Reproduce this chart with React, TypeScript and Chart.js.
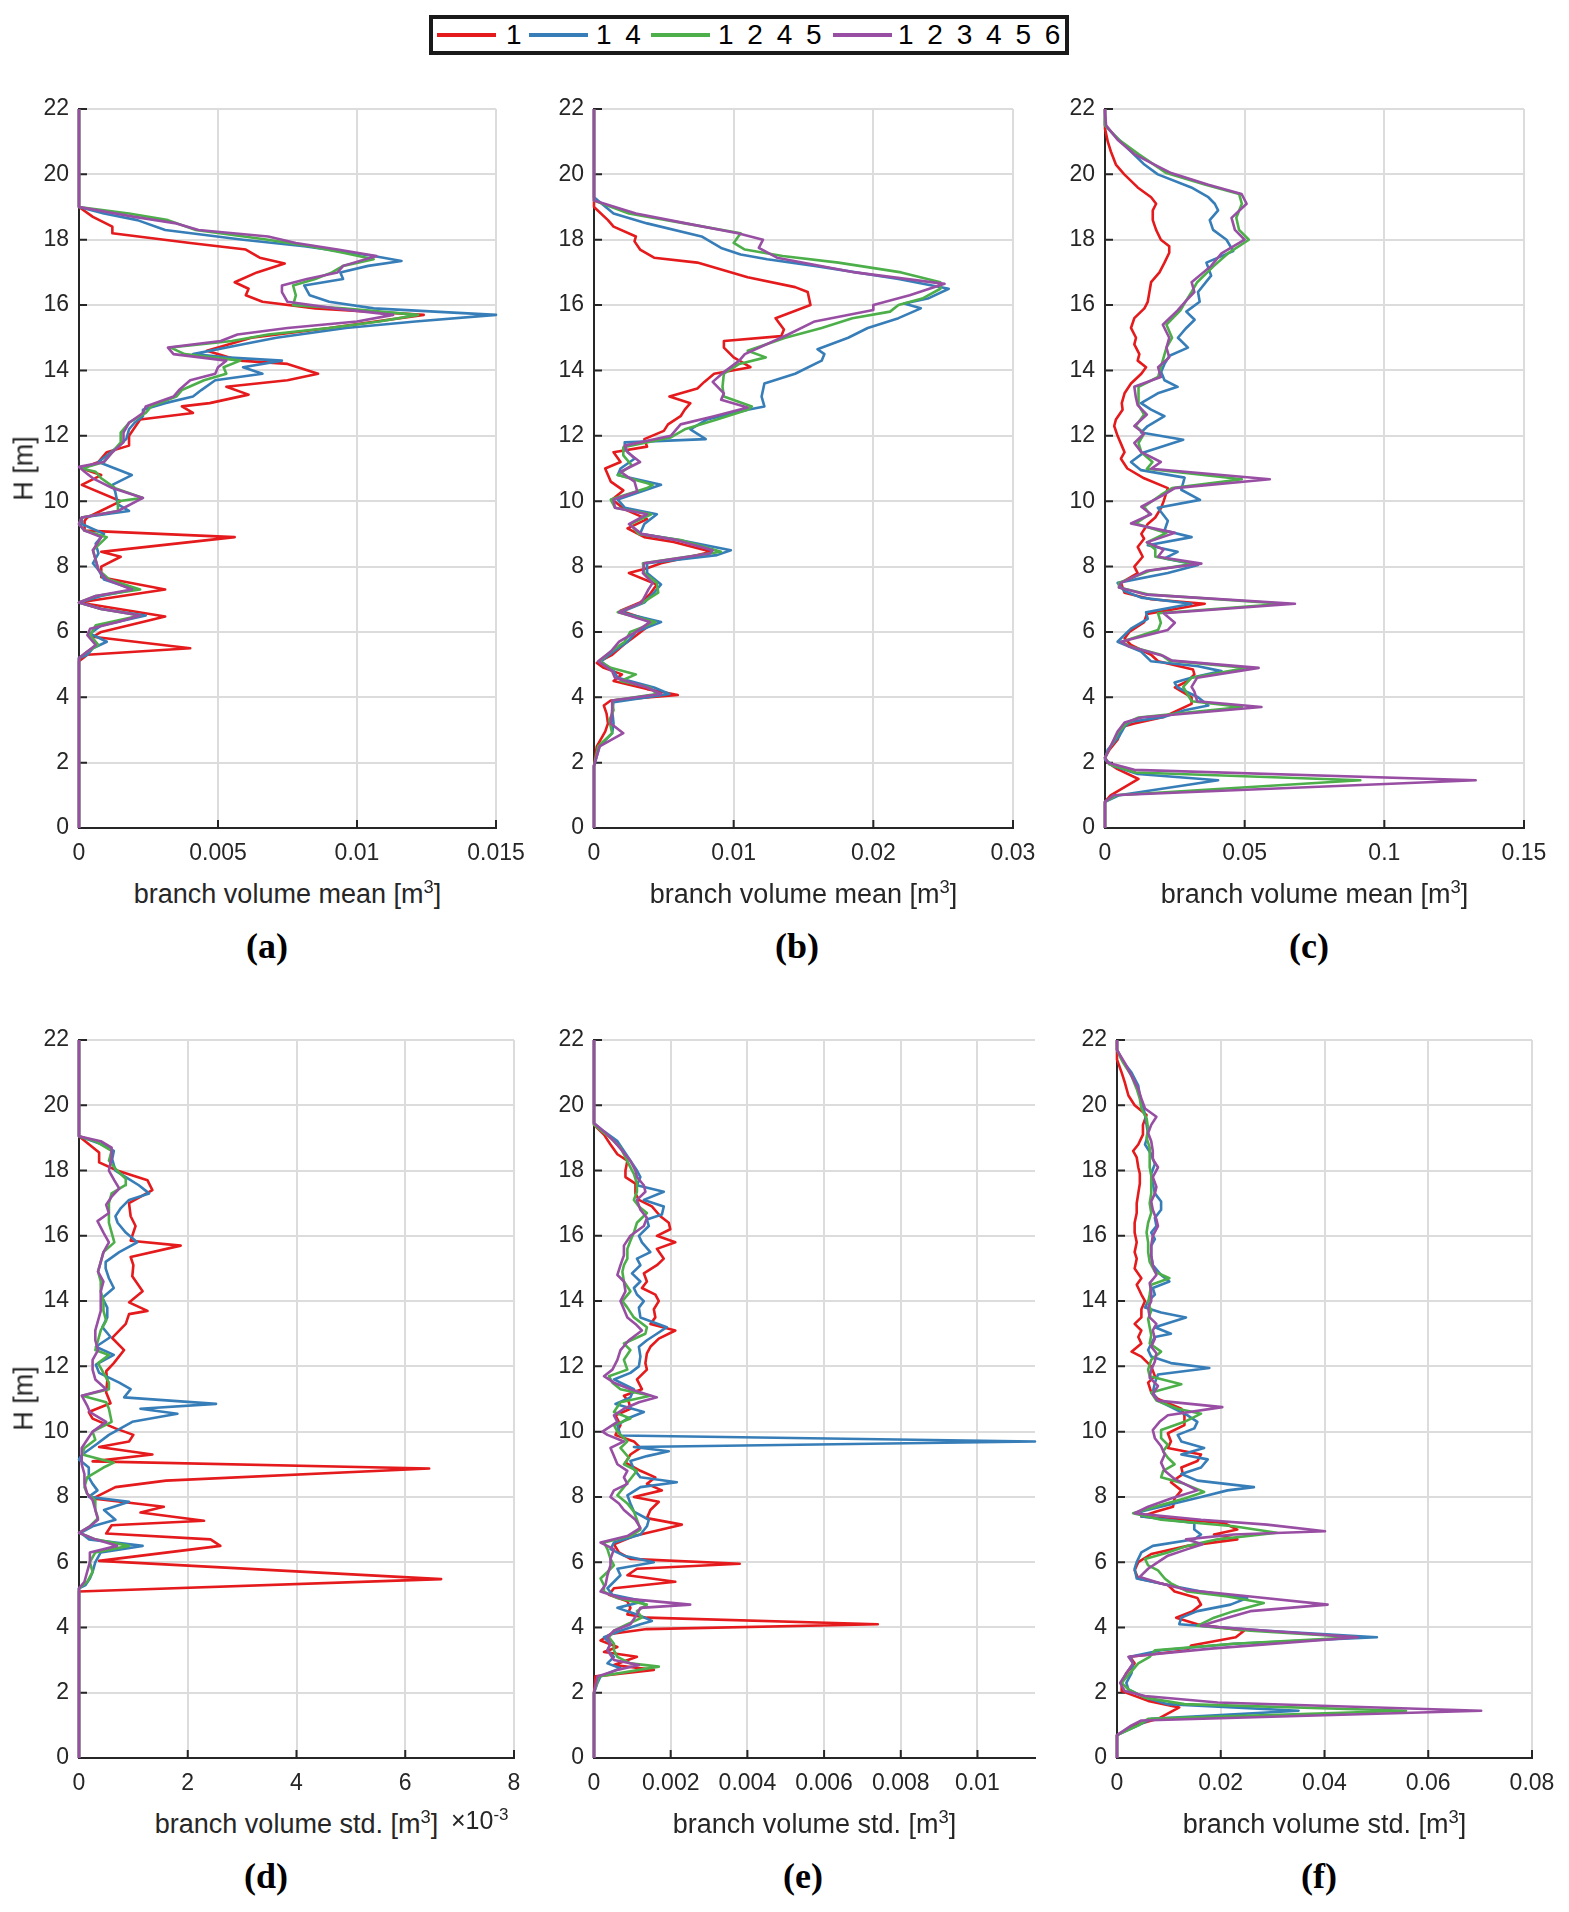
import React, { useEffect, useRef } from "react";
import { Chart, registerables } from "chart.js";

Chart.register(...registerables);

// ---------- styling constants ----------
const FONT = "'Liberation Sans', Arial, Helvetica, sans-serif";
const SERIF = "'Liberation Serif', 'Times New Roman', Times, serif";
const AXIS_COLOR = "#262626";
const GRID_COLOR = "#dcdcdc";
const SERIES_COLORS = ["#E41A1C", "#377EB8", "#4DAF4A", "#984EA3"];
const SERIES_LABELS = ["1", "1 4", "1 2 4 5", "1 2 3 4 5 6"];

// ---------- shared axis ticks ----------
const H_TICKS = [0, 2, 4, 6, 8, 10, 12, 14, 16, 18, 20, 22];
const H_TICK_LABELS = ["0", "2", "4", "6", "8", "10", "12", "14", "16", "18", "20", "22"];

const XT_A = [0, 0.005, 0.01, 0.015];
const XL_A = ["0", "0.005", "0.01", "0.015"];
const XT_B = [0, 0.01, 0.02, 0.03];
const XL_B = ["0", "0.01", "0.02", "0.03"];
const XT_C = [0, 0.05, 0.1, 0.15];
const XL_C = ["0", "0.05", "0.1", "0.15"];
const XT_D = [0, 2, 4, 6, 8]; // x 10^-3 m^3
const XL_D = ["0", "2", "4", "6", "8"];
const XT_E = [0, 0.002, 0.004, 0.006, 0.008, 0.01];
const XL_E = ["0", "0.002", "0.004", "0.006", "0.008", "0.01"];
const XT_F = [0, 0.02, 0.04, 0.06, 0.08];
const XL_F = ["0", "0.02", "0.04", "0.06", "0.08"];

// ---------- data: [height H (m), value] ----------
// (a) branch volume mean [m^3]
const A_RED = [[0,0],[5.1,0],[5.3,0.0003],[5.5,0.004],[5.85,0.0005],[6.0,0.0008],[6.47,0.0031],[6.9,0],[7.3,0.0031],[7.67,0.0008],[8.0,0.0008],[8.3,0.0015],[8.45,0.0008],[8.9,0.0056],[9.1,0.0002],[9.4,0.0002],[9.5,0.0003],[10.0,0.0015],[10.5,0.0001],[10.8,0.0008],[11.0,0.0001],[11.2,0.0007],[11.5,0.001],[11.7,0.0018],[12.0,0.0018],[12.5,0.0022],[12.7,0.0041],[12.9,0.0037],[13.0,0.0047],[13.26,0.0061],[13.5,0.0053],[13.7,0.0075],[13.9,0.0086],[14.2,0.0075],[14.3,0.0058],[14.6,0.0046],[15.0,0.0062],[15.3,0.009],[15.7,0.0124],[15.9,0.0085],[16.1,0.0066],[16.3,0.006],[16.5,0.0061],[16.7,0.0056],[17.0,0.0064],[17.27,0.0074],[17.45,0.0065],[17.7,0.006],[17.9,0.004],[18.2,0.0012],[18.4,0.0012],[18.7,0.0005],[19.0,0],[22,0]];
const A_BLUE = [[0,0],[5.2,0],[5.3,0.0003],[5.5,0.0005],[5.7,0.001],[5.95,0.0004],[6.2,0.0008],[6.5,0.0024],[6.7,0.0008],[6.9,0],[7.1,0.0008],[7.3,0.002],[7.6,0.0009],[7.9,0.0007],[8.1,0.0005],[8.4,0.0007],[8.7,0.0006],[9.0,0.0009],[9.3,0.0001],[9.5,0.0001],[9.7,0.0018],[9.9,0.0014],[10.3,0.0013],[10.5,0.0012],[10.8,0.0019],[11.0,0.0013],[11.2,0.0007],[11.4,0.001],[11.6,0.0013],[11.9,0.0017],[12.2,0.0018],[12.4,0.002],[12.6,0.0023],[12.8,0.0023],[13.0,0.0031],[13.2,0.0041],[13.4,0.0044],[13.7,0.0049],[13.9,0.0066],[14.1,0.0059],[14.3,0.0073],[14.4,0.0053],[14.5,0.0041],[14.8,0.0059],[15.0,0.0071],[15.3,0.0096],[15.5,0.0121],[15.7,0.015],[15.9,0.0106],[16.1,0.009],[16.3,0.0083],[16.6,0.0081],[16.8,0.0095],[17.0,0.0094],[17.2,0.0104],[17.35,0.0116],[17.5,0.0106],[17.8,0.0081],[18.0,0.0059],[18.3,0.0031],[18.6,0.0021],[18.8,0.0009],[19.0,0],[22,0]];
const A_GREEN = [[0,0],[5.2,0],[5.4,0.0003],[5.6,0.0007],[5.9,0.0004],[6.2,0.0006],[6.5,0.0022],[6.7,0.0008],[6.9,0],[7.1,0.0006],[7.3,0.0022],[7.6,0.0011],[7.9,0.0007],[8.2,0.0006],[8.5,0.0005],[8.9,0.001],[9.1,0.0002],[9.3,0],[9.5,0.0001],[9.7,0.0014],[10.0,0.0014],[10.1,0.0023],[10.4,0.0013],[10.7,0.0008],[10.9,0.0006],[11.0,0.0001],[11.2,0.0009],[11.5,0.0012],[11.8,0.0015],[12.1,0.0015],[12.4,0.0018],[12.7,0.0024],[12.9,0.0026],[13.2,0.0035],[13.4,0.0037],[13.7,0.0045],[13.9,0.0053],[14.1,0.0052],[14.3,0.0058],[14.5,0.0038],[14.7,0.0033],[14.9,0.0055],[15.1,0.0068],[15.3,0.009],[15.5,0.0108],[15.7,0.0122],[15.9,0.0095],[16.0,0.0077],[16.3,0.0078],[16.6,0.0077],[16.8,0.0085],[17.0,0.0091],[17.2,0.0095],[17.4,0.0106],[17.6,0.0095],[17.8,0.0083],[18.0,0.0068],[18.3,0.0042],[18.6,0.0032],[18.8,0.0018],[19.0,0],[22,0]];
const A_PURPLE = [[0,0],[5.2,0],[5.4,0.0003],[5.6,0.0006],[5.9,0.0003],[6.1,0.0004],[6.3,0.0014],[6.5,0.0022],[6.7,0.0008],[6.9,0],[7.1,0.0006],[7.3,0.0019],[7.6,0.001],[7.9,0.0007],[8.2,0.0006],[8.5,0.0005],[8.9,0.0008],[9.1,0.0002],[9.3,0],[9.5,0.0001],[9.7,0.0014],[10.1,0.0023],[10.4,0.0012],[10.7,0.0005],[10.9,0.0002],[11.05,0],[11.2,0.0009],[11.5,0.0012],[11.8,0.0016],[12.1,0.0016],[12.4,0.0018],[12.7,0.0023],[12.9,0.0024],[13.2,0.0034],[13.4,0.0036],[13.7,0.004],[13.9,0.0049],[14.1,0.005],[14.3,0.0053],[14.5,0.0034],[14.7,0.0032],[14.9,0.0051],[15.1,0.0057],[15.3,0.0075],[15.5,0.01],[15.7,0.0113],[15.9,0.0092],[16.1,0.0075],[16.4,0.0073],[16.6,0.0073],[16.8,0.0082],[17.0,0.0093],[17.2,0.0095],[17.5,0.0107],[17.7,0.0093],[17.9,0.0078],[18.1,0.0068],[18.3,0.0043],[18.5,0.0035],[18.7,0.002],[19.0,0],[22,0]];

// (b) branch volume mean [m^3]
const B_RED = [[0,0],[1.9,0],[2.5,0.0002],[2.95,0.0008],[3.2,0.001],[3.5,0.0009],[3.75,0.0007],[3.9,0.0012],[4.07,0.006],[4.25,0.0038],[4.5,0.0014],[4.7,0.002],[4.9,0.0007],[5.05,0.0002],[5.3,0.0013],[5.6,0.0021],[5.85,0.0029],[6.05,0.0035],[6.3,0.0043],[6.65,0.0019],[6.9,0.0033],[7.15,0.004],[7.45,0.0045],[7.8,0.0025],[7.95,0.0038],[8.1,0.0048],[8.3,0.0069],[8.45,0.0084],[8.75,0.0057],[8.9,0.0036],[9.17,0.0024],[9.45,0.0038],[9.75,0.0022],[10.05,0.0013],[10.33,0.0021],[10.6,0.0012],[11.0,0.0008],[11.2,0.0019],[11.5,0.0014],[11.67,0.0038],[11.9,0.0036],[12.15,0.005],[12.35,0.0053],[12.6,0.0062],[12.8,0.0065],[13.0,0.0069],[13.2,0.0054],[13.45,0.0074],[13.65,0.0079],[13.9,0.0086],[14.1,0.0112],[14.4,0.01],[14.7,0.0093],[14.9,0.0093],[15.05,0.0134],[15.25,0.0136],[15.6,0.013],[16.0,0.0155],[16.4,0.0153],[16.55,0.0144],[16.85,0.011],[17.3,0.0074],[17.45,0.0043],[17.7,0.0033],[17.95,0.0029],[18.1,0.003],[18.4,0.0014],[18.6,0.001],[19.0,0],[22,0]];
const B_BLUE = [[0,0],[1.9,0],[2.5,0.0004],[2.9,0.0013],[3.2,0.0014],[3.6,0.0013],[3.85,0.0014],[4.1,0.0054],[4.3,0.0043],[4.6,0.0017],[4.8,0.0014],[5.1,0.0005],[5.4,0.0014],[5.7,0.0024],[6.0,0.003],[6.3,0.0048],[6.6,0.0019],[6.9,0.0036],[7.2,0.0043],[7.45,0.0048],[7.8,0.0038],[8.1,0.0038],[8.35,0.0088],[8.5,0.0098],[8.8,0.0062],[9.0,0.0033],[9.3,0.0036],[9.6,0.0045],[9.8,0.0022],[10.05,0.0017],[10.5,0.0048],[10.8,0.0017],[11.0,0.0019],[11.3,0.0029],[11.6,0.0022],[11.8,0.0022],[11.9,0.008],[12.2,0.0069],[12.5,0.0081],[12.8,0.011],[12.9,0.0122],[13.2,0.012],[13.6,0.0122],[13.9,0.0144],[14.3,0.0163],[14.5,0.0165],[14.65,0.016],[15.0,0.0182],[15.3,0.0196],[15.6,0.0218],[15.9,0.0234],[16.05,0.0222],[16.2,0.0239],[16.5,0.0254],[16.8,0.0218],[17.2,0.0158],[17.4,0.0124],[17.55,0.0105],[17.75,0.0091],[18.1,0.0077],[18.5,0.0038],[18.8,0.0014],[19.3,0],[22,0]];
const B_GREEN = [[0,0],[1.9,0],[2.5,0.0003],[2.9,0.0013],[3.3,0.0011],[3.6,0.0014],[3.9,0.0013],[4.1,0.0045],[4.3,0.004],[4.5,0.0019],[4.7,0.003],[4.9,0.0012],[5.1,0.0004],[5.4,0.0012],[5.7,0.0022],[6.0,0.0026],[6.3,0.0044],[6.6,0.0017],[6.9,0.0035],[7.2,0.0046],[7.5,0.0045],[7.8,0.0036],[8.1,0.0035],[8.45,0.0091],[8.8,0.0063],[9.0,0.0032],[9.3,0.0026],[9.6,0.0041],[9.8,0.0015],[10.05,0.0012],[10.4,0.0038],[10.5,0.0042],[10.8,0.0017],[11.1,0.0027],[11.4,0.0021],[11.65,0.0021],[11.95,0.0055],[12.2,0.0065],[12.5,0.0088],[12.8,0.011],[12.9,0.0113],[13.2,0.0093],[13.5,0.0092],[13.9,0.0093],[14.2,0.0104],[14.4,0.0123],[14.6,0.011],[15.0,0.0137],[15.3,0.0163],[15.6,0.0185],[15.8,0.0212],[16.0,0.0218],[16.2,0.0235],[16.5,0.0248],[16.7,0.0248],[17.0,0.022],[17.3,0.0175],[17.5,0.0135],[17.7,0.0108],[17.9,0.01],[18.2,0.0105],[18.5,0.0065],[18.8,0.0025],[19.2,0],[22,0]];
const B_PURPLE = [[0,0],[1.9,0],[2.5,0.0004],[2.9,0.0021],[3.2,0.0012],[3.6,0.0013],[3.9,0.0013],[4.1,0.0048],[4.3,0.0038],[4.6,0.0015],[4.8,0.0013],[5.1,0.0003],[5.4,0.0012],[5.7,0.0018],[6.0,0.003],[6.3,0.004],[6.6,0.0018],[6.9,0.0034],[7.3,0.0039],[7.5,0.0042],[7.8,0.0035],[8.1,0.0036],[8.4,0.0083],[8.5,0.0085],[8.8,0.006],[9.0,0.0034],[9.3,0.0025],[9.6,0.0038],[9.8,0.0015],[10.05,0.0014],[10.3,0.0031],[10.6,0.0029],[10.9,0.0019],[11.2,0.0033],[11.5,0.0024],[11.7,0.0022],[12.0,0.0055],[12.35,0.0062],[12.6,0.0086],[12.87,0.011],[13.1,0.0091],[13.3,0.0093],[13.65,0.0085],[13.95,0.0093],[14.3,0.0104],[14.5,0.0108],[15.1,0.0139],[15.5,0.0158],[15.85,0.02],[16.0,0.02],[16.3,0.0226],[16.65,0.0251],[17.0,0.0187],[17.45,0.0131],[17.75,0.0118],[18.0,0.0121],[18.2,0.0103],[18.5,0.0066],[18.8,0.003],[19.2,0],[22,0]];

// (c) branch volume mean [m^3]
const C_RED = [[0,0],[0.8,0],[1.0,0.002],[1.5,0.012],[1.8,0.0045],[2.0,0.001],[2.15,0],[2.4,0.0016],[2.7,0.0045],[3.1,0.0063],[3.2,0.0105],[3.4,0.021],[3.6,0.026],[3.8,0.031],[4.0,0.031],[4.3,0.025],[4.5,0.0297],[4.7,0.032],[4.85,0.0315],[5.1,0.019],[5.3,0.0165],[5.6,0.0093],[5.8,0.007],[6.0,0.0087],[6.3,0.014],[6.55,0.015],[6.86,0.0357],[7.0,0.0165],[7.2,0.007],[7.5,0.0057],[7.8,0.0117],[8.0,0.0105],[8.3,0.0135],[8.6,0.0117],[8.85,0.014],[9.0,0.013],[9.3,0.0153],[9.5,0.018],[9.8,0.0201],[10.0,0.021],[10.4,0.0225],[10.7,0.014],[11.0,0.008],[11.3,0.0057],[11.5,0.007],[11.7,0.006],[12.0,0.0045],[12.3,0.0033],[12.5,0.0039],[12.8,0.0063],[13.0,0.006],[13.3,0.007],[13.6,0.0093],[13.9,0.013],[14.1,0.0147],[14.3,0.0117],[14.5,0.0123],[14.8,0.0105],[15.0,0.0111],[15.3,0.0093],[15.6,0.0105],[15.9,0.0141],[16.1,0.0153],[16.4,0.0159],[16.7,0.0165],[17.0,0.0195],[17.3,0.0213],[17.6,0.023],[17.8,0.023],[18.0,0.02],[18.3,0.0183],[18.6,0.0171],[18.9,0.0171],[19.1,0.0183],[19.3,0.0165],[19.6,0.0117],[20.0,0.0069],[20.3,0.0039],[20.7,0.0021],[21.0,0.001],[21.4,0],[22,0]];
const C_BLUE = [[0,0],[0.8,0],[1.0,0.005],[1.46,0.0405],[1.65,0.0117],[1.9,0.003],[2.1,0],[2.4,0.001],[2.8,0.005],[3.1,0.007],[3.25,0.0093],[3.4,0.0213],[3.6,0.0285],[3.75,0.037],[4.0,0.0333],[4.3,0.026],[4.45,0.0249],[4.6,0.0309],[4.8,0.0417],[4.95,0.0333],[5.1,0.0165],[5.4,0.0129],[5.7,0.0045],[5.9,0.0069],[6.1,0.0093],[6.4,0.0153],[6.6,0.0147],[6.86,0.031],[7.05,0.0129],[7.25,0.007],[7.5,0.0045],[7.8,0.0225],[8.05,0.0333],[8.25,0.0213],[8.45,0.026],[8.65,0.0153],[8.9,0.031],[9.1,0.0213],[9.4,0.0225],[9.8,0.0189],[10.04,0.034],[10.35,0.0273],[10.72,0.0285],[10.95,0.0129],[11.2,0.0093],[11.5,0.0141],[11.88,0.028],[12.1,0.0129],[12.3,0.0153],[12.6,0.0213],[12.8,0.0165],[13.0,0.0129],[13.3,0.0189],[13.5,0.026],[13.7,0.0213],[13.95,0.0201],[14.2,0.0213],[14.45,0.0231],[14.7,0.0297],[15.0,0.0261],[15.3,0.0291],[15.55,0.0321],[15.8,0.0291],[16.1,0.0339],[16.4,0.0333],[16.9,0.038],[17.3,0.0363],[17.65,0.0459],[18.0,0.0435],[18.3,0.0387],[18.6,0.0375],[18.9,0.0405],[19.1,0.0393],[19.3,0.037],[19.6,0.0309],[20.0,0.0189],[20.3,0.0141],[20.5,0.0117],[20.8,0.0081],[21.2,0.0033],[21.5,0],[22,0]];
const C_GREEN = [[0,0],[0.8,0],[1.0,0.004],[1.46,0.0914],[1.7,0.011],[1.95,0.0015],[2.15,0],[2.5,0.002],[2.95,0.005],[3.23,0.008],[3.38,0.012],[3.7,0.049],[3.88,0.031],[4.17,0.029],[4.32,0.028],[4.6,0.031],[4.9,0.051],[5.12,0.023],[5.3,0.02],[5.55,0.009],[5.7,0.006],[6.06,0.019],[6.28,0.02],[6.57,0.019],[6.86,0.064],[7.14,0.016],[7.36,0.005],[7.5,0.005],[7.87,0.016],[8.09,0.032],[8.3,0.018],[8.52,0.018],[8.74,0.015],[9.03,0.022],[9.32,0.011],[9.6,0.016],[9.83,0.014],[10.19,0.02],[10.4,0.024],[10.67,0.049],[10.99,0.015],[11.2,0.017],[11.5,0.013],[11.78,0.012],[12.07,0.014],[12.3,0.011],[12.65,0.014],[12.94,0.012],[13.2,0.012],[13.5,0.012],[13.8,0.019],[14.1,0.02],[14.4,0.021],[14.7,0.022],[15.0,0.024],[15.4,0.022],[15.84,0.027],[16.13,0.029],[16.4,0.031],[16.7,0.033],[17.2,0.039],[17.58,0.044],[18.0,0.0515],[18.3,0.048],[18.67,0.047],[19.1,0.049],[19.4,0.048],[19.68,0.036],[20.04,0.022],[20.33,0.017],[20.62,0.012],[21.06,0.005],[21.5,0],[22,0]];
const C_PURPLE = [[0,0],[0.8,0],[1.0,0.003],[1.46,0.1327],[1.78,0.0105],[2.0,0.001],[2.15,0],[2.5,0.002],[2.95,0.0045],[3.23,0.007],[3.38,0.013],[3.7,0.056],[3.88,0.033],[4.17,0.032],[4.32,0.031],[4.6,0.033],[4.9,0.055],[5.12,0.024],[5.26,0.021],[5.55,0.0087],[5.7,0.0057],[6.06,0.0225],[6.28,0.025],[6.57,0.021],[6.86,0.068],[7.14,0.015],[7.36,0.005],[7.5,0.0057],[7.87,0.015],[8.09,0.0345],[8.3,0.019],[8.52,0.021],[8.74,0.015],[9.03,0.025],[9.32,0.0093],[9.6,0.0165],[9.83,0.013],[10.19,0.021],[10.4,0.025],[10.67,0.059],[10.99,0.0165],[11.2,0.02],[11.5,0.013],[11.78,0.0105],[12.07,0.014],[12.3,0.0105],[12.65,0.015],[12.94,0.0117],[13.2,0.011],[13.5,0.0105],[13.8,0.02],[14.1,0.019],[14.4,0.023],[14.7,0.022],[15.0,0.023],[15.4,0.0207],[15.84,0.026],[16.13,0.029],[16.4,0.032],[16.7,0.031],[17.2,0.038],[17.58,0.0417],[18.0,0.05],[18.3,0.0465],[18.67,0.0453],[19.1,0.0507],[19.4,0.0489],[19.68,0.037],[20.04,0.0237],[20.33,0.017],[20.62,0.0105],[21.06,0.0045],[21.5,0.0004],[21.9,0],[22,0]];

// (d) branch volume std. [10^-3 m^3]
const D_RED = [[0,0],[5.1,0],[5.48,6.66],[6.04,0.37],[6.5,2.6],[6.7,2.42],[6.88,0.5],[7.13,0.6],[7.27,2.3],[7.52,1.13],[7.7,1.56],[7.95,0.25],[8.3,0.67],[8.5,1.6],[8.87,6.44],[9.09,0.25],[9.3,1.35],[9.53,0.37],[9.7,0.92],[9.9,1.0],[10.1,0.67],[10.4,0.25],[10.6,0.18],[10.87,0.58],[11.2,0.5],[11.56,0.52],[11.85,0.5],[12.1,0.64],[12.5,0.83],[12.87,0.61],[13.3,0.86],[13.6,0.92],[13.7,1.26],[13.96,0.92],[14.3,1.17],[14.76,0.98],[15.1,1.0],[15.35,0.95],[15.7,1.87],[15.85,0.95],[16.3,1.04],[16.6,0.95],[17.0,0.92],[17.4,1.35],[17.7,1.26],[18.0,0.7],[18.25,0.37],[18.55,0.37],[19.05,0],[22,0]];
const D_BLUE = [[0,0],[5.2,0],[5.3,0.12],[5.5,0.2],[5.7,0.25],[6.0,0.3],[6.3,0.4],[6.5,1.17],[6.7,0.18],[6.9,0.03],[7.1,0.25],[7.3,0.67],[7.6,0.46],[7.85,0.92],[8.0,0.18],[8.2,0.34],[8.4,0.25],[8.6,0.18],[8.9,0.18],[9.15,0],[9.3,0.06],[9.6,0.31],[9.9,0.55],[10.3,0.98],[10.55,1.81],[10.7,1.13],[10.85,2.52],[11.05,0.83],[11.3,0.95],[11.5,0.74],[11.8,0.37],[12.05,0.31],[12.35,0.64],[12.6,0.31],[12.9,0.58],[13.2,0.43],[13.5,0.52],[13.8,0.52],[14.1,0.43],[14.4,0.64],[14.7,0.55],[15.0,0.49],[15.2,0.49],[15.5,0.74],[15.8,1.07],[16.1,0.86],[16.4,0.71],[16.6,0.67],[16.85,0.77],[17.1,0.92],[17.3,1.29],[17.55,1.1],[17.8,0.86],[18.0,0.67],[18.35,0.61],[18.6,0.64],[18.8,0.43],[19.05,0],[22,0]];
const D_GREEN = [[0,0],[5.2,0],[5.4,0.15],[5.7,0.25],[6.0,0.2],[6.3,0.3],[6.5,0.92],[6.7,0.3],[6.9,0],[7.1,0.2],[7.35,0.35],[7.6,0.3],[7.9,0.3],[8.1,0.15],[8.3,0.1],[8.6,0.15],[8.9,0.45],[9.05,0.64],[9.3,0.06],[9.5,0.1],[9.75,0.3],[10.0,0.25],[10.3,0.6],[10.7,0.55],[10.9,0.5],[11.1,0.06],[11.3,0.55],[11.5,0.55],[11.8,0.45],[12.1,0.35],[12.35,0.55],[12.5,0.3],[12.8,0.35],[13.1,0.4],[13.4,0.5],[13.7,0.45],[14.0,0.45],[14.3,0.4],[14.6,0.4],[14.9,0.35],[15.2,0.4],[15.5,0.45],[15.8,0.65],[16.1,0.6],[16.4,0.55],[16.7,0.55],[17.0,0.55],[17.3,0.6],[17.55,0.85],[17.75,0.86],[18.0,0.7],[18.3,0.55],[18.6,0.6],[18.9,0.3],[19.05,0],[22,0]];
const D_PURPLE = [[0,0],[5.2,0],[5.4,0.1],[5.7,0.15],[6.0,0.2],[6.3,0.2],[6.5,0.7],[6.7,0.3],[6.9,0],[7.1,0.2],[7.3,0.35],[7.6,0.3],[7.9,0.25],[8.1,0.15],[8.4,0.1],[8.7,0.1],[9.0,0.05],[9.2,0.05],[9.5,0.05],[9.75,0.15],[10.0,0.25],[10.3,0.5],[10.6,0.2],[10.8,0.15],[11.1,0.05],[11.3,0.5],[11.6,0.3],[11.9,0.25],[12.2,0.25],[12.5,0.35],[12.8,0.3],[13.1,0.3],[13.4,0.35],[13.7,0.4],[14.0,0.4],[14.3,0.4],[14.6,0.45],[14.9,0.35],[15.2,0.4],[15.5,0.45],[15.8,0.55],[16.1,0.45],[16.45,0.34],[16.7,0.55],[16.95,0.5],[17.2,0.6],[17.45,0.74],[17.7,0.65],[18.0,0.55],[18.4,0.6],[18.7,0.6],[18.9,0.4],[19.05,0],[22,0]];

// (e) branch volume std. [m^3]
const E_RED = [[0,0],[2.0,0],[2.5,0.00004],[2.7,0.00156],[2.85,0.00052],[3.1,0.00112],[3.25,0.00026],[3.4,0.00061],[3.6,0.00017],[3.8,0.00043],[3.95,0.00138],[4.1,0.0074],[4.3,0.00138],[4.4,0.00087],[4.6,0.00095],[4.8,0.00087],[5.0,0.00039],[5.2,0.00052],[5.4,0.00212],[5.6,0.00087],[5.8,0.00112],[5.95,0.0038],[6.1,0.00095],[6.3,0.00065],[6.55,0.00052],[6.8,0.00104],[7.15,0.00229],[7.35,0.00138],[7.6,0.00147],[7.85,0.00169],[8.0,0.00104],[8.2,0.00177],[8.4,0.00138],[8.6,0.0016],[8.8,0.00121],[9.05,0.00082],[9.3,0.00095],[9.5,0.00121],[9.7,0.00104],[9.9,0.00056],[10.2,0.00069],[10.5,0.00056],[10.7,0.00095],[10.9,0.00091],[11.1,0.00078],[11.3,0.00125],[11.6,0.00112],[11.9,0.00138],[12.1,0.00134],[12.4,0.00138],[12.6,0.00147],[12.85,0.00169],[13.1,0.00212],[13.3,0.00147],[13.5,0.0016],[13.75,0.00156],[14.0,0.00169],[14.2,0.0016],[14.4,0.00125],[14.6,0.00138],[14.85,0.0013],[15.1,0.00164],[15.3,0.00182],[15.6,0.00164],[15.8,0.00212],[16.0,0.00164],[16.2,0.00199],[16.4,0.00195],[16.6,0.00173],[16.9,0.00151],[17.1,0.00117],[17.3,0.00108],[17.6,0.00108],[17.8,0.00082],[18.0,0.00082],[18.3,0.00087],[18.5,0.00061],[18.8,0.00043],[19.1,0.00026],[19.4,0],[22,0]];
const E_BLUE = [[0,0],[2.0,0],[2.3,0.00009],[2.5,0.00017],[2.75,0.00069],[2.9,0.00035],[3.1,0.00052],[3.3,0.00035],[3.5,0.00043],[3.7,0.00026],[3.9,0.00069],[4.1,0.00121],[4.2,0.00151],[4.4,0.00112],[4.6,0.00061],[4.8,0.0013],[5.0,0.00048],[5.2,0.00035],[5.4,0.00052],[5.6,0.00069],[5.8,0.00061],[6.0,0.00156],[6.2,0.00078],[6.4,0.00043],[6.6,0.00052],[6.85,0.00121],[7.1,0.00138],[7.3,0.00143],[7.55,0.00104],[7.8,0.00095],[8.05,0.00087],[8.3,0.00121],[8.45,0.00216],[8.6,0.00121],[8.85,0.00104],[9.1,0.00095],[9.25,0.00138],[9.4,0.00195],[9.53,0.00104],[9.7,0.0115],[9.88,0.00069],[10.2,0.00061],[10.4,0.00087],[10.6,0.0013],[10.85,0.00056],[11.05,0.00095],[11.3,0.00104],[11.6,0.00052],[11.8,0.00095],[12.0,0.00117],[12.3,0.00121],[12.6,0.00117],[12.8,0.00138],[13.0,0.00164],[13.2,0.0019],[13.5,0.00121],[13.8,0.00117],[14.0,0.0013],[14.2,0.00112],[14.4,0.00104],[14.6,0.00121],[14.85,0.00099],[15.1,0.00121],[15.3,0.00112],[15.5,0.00147],[15.8,0.00125],[16.0,0.00117],[16.3,0.00143],[16.5,0.00138],[16.65,0.00177],[16.9,0.00182],[17.1,0.0013],[17.35,0.00182],[17.55,0.00112],[17.8,0.00121],[18.0,0.00112],[18.3,0.00095],[18.6,0.00078],[18.9,0.00061],[19.2,0.00026],[19.45,0],[22,0]];
const E_GREEN = [[0,0],[2.0,0],[2.5,0.00013],[2.8,0.00169],[2.9,0.00095],[3.1,0.00061],[3.3,0.00052],[3.5,0.00052],[3.7,0.00039],[3.9,0.00052],[4.1,0.00087],[4.3,0.00125],[4.5,0.00112],[4.7,0.00138],[4.9,0.00061],[5.1,0.00026],[5.3,0.00026],[5.5,0.00017],[5.7,0.00035],[5.9,0.00052],[6.1,0.00043],[6.4,0.00035],[6.6,0.00026],[6.8,0.00095],[7.0,0.00121],[7.3,0.00112],[7.55,0.00104],[7.8,0.00087],[8.05,0.00061],[8.3,0.00078],[8.55,0.00095],[8.8,0.00112],[9.0,0.00078],[9.2,0.00091],[9.5,0.00069],[9.7,0.00087],[10.0,0.00061],[10.2,0.00052],[10.4,0.00095],[10.6,0.00052],[10.9,0.00069],[11.1,0.00147],[11.3,0.00069],[11.5,0.00048],[11.7,0.00039],[11.9,0.00087],[12.2,0.00078],[12.5,0.00095],[12.7,0.00078],[13.0,0.00134],[13.2,0.00138],[13.5,0.00104],[13.8,0.00087],[14.0,0.00074],[14.3,0.00095],[14.6,0.00078],[14.9,0.00074],[15.1,0.00078],[15.3,0.00087],[15.6,0.00087],[15.85,0.00095],[16.1,0.00104],[16.4,0.00112],[16.7,0.00138],[16.9,0.00117],[17.1,0.00104],[17.35,0.00112],[17.6,0.00112],[17.9,0.00104],[18.1,0.00095],[18.4,0.00082],[18.7,0.00069],[19.0,0.00043],[19.4,0],[22,0]];
const E_PURPLE = [[0,0],[2.0,0],[2.5,0.00009],[2.7,0.00061],[2.85,0.00117],[3.0,0.00052],[3.3,0.00035],[3.5,0.00043],[3.7,0.00035],[3.9,0.00052],[4.1,0.00095],[4.4,0.00112],[4.6,0.00121],[4.7,0.00251],[4.9,0.00069],[5.1,0.00017],[5.3,0.0003],[5.6,0.00035],[5.9,0.00043],[6.1,0.00043],[6.4,0.00052],[6.6,0.00017],[6.8,0.00087],[7.05,0.00121],[7.3,0.00108],[7.6,0.00078],[7.8,0.00065],[8.0,0.00043],[8.2,0.00052],[8.4,0.00087],[8.6,0.00078],[8.8,0.00087],[9.0,0.00061],[9.25,0.00052],[9.5,0.00043],[9.7,0.00078],[9.9,0.00035],[10.0,0.00022],[10.3,0.00061],[10.5,0.00052],[10.7,0.00078],[10.9,0.00117],[11.05,0.00164],[11.3,0.00095],[11.5,0.00052],[11.7,0.00026],[11.9,0.00048],[12.2,0.00061],[12.5,0.00069],[12.8,0.00091],[13.1,0.00125],[13.3,0.00108],[13.5,0.00087],[13.75,0.00078],[14.0,0.00069],[14.3,0.00082],[14.6,0.00078],[14.8,0.00061],[15.1,0.00069],[15.4,0.00078],[15.7,0.00078],[16.0,0.00095],[16.3,0.0013],[16.55,0.00138],[16.8,0.00121],[17.1,0.00112],[17.35,0.00134],[17.55,0.0013],[17.8,0.00112],[18.0,0.00108],[18.3,0.00095],[18.6,0.00074],[18.9,0.00052],[19.2,0.00026],[19.45,0],[22,0]];

// (f) branch volume std. [m^3]
const F_RED = [[0,0],[0.7,0],[1.0,0.0034],[1.2,0.0079],[1.55,0.012],[1.75,0.006],[2.05,0.0009],[2.3,0.0009],[2.6,0.0018],[2.9,0.0034],[3.1,0.0025],[3.3,0.0136],[3.45,0.0143],[3.7,0.0229],[3.9,0.0245],[4.1,0.0155],[4.3,0.0114],[4.5,0.0146],[4.7,0.0162],[4.9,0.0155],[5.1,0.0111],[5.3,0.0098],[5.5,0.0041],[5.75,0.0034],[6.0,0.0041],[6.25,0.0066],[6.5,0.0136],[6.7,0.0232],[6.85,0.0187],[7.0,0.0232],[7.2,0.0206],[7.4,0.0047],[7.55,0.0076],[7.7,0.0108],[7.95,0.0111],[8.2,0.0124],[8.45,0.0104],[8.7,0.0127],[8.9,0.0124],[9.1,0.0155],[9.3,0.0162],[9.5,0.0098],[9.7,0.0104],[9.95,0.0098],[10.2,0.013],[10.5,0.013],[10.7,0.0124],[11.0,0.0079],[11.2,0.0066],[11.5,0.006],[11.7,0.0073],[12.0,0.0066],[12.3,0.0047],[12.45,0.0028],[12.7,0.0047],[12.9,0.0041],[13.1,0.0047],[13.3,0.0034],[13.5,0.0047],[13.75,0.0047],[14.0,0.0054],[14.2,0.0047],[14.5,0.0038],[14.7,0.0047],[15.0,0.0034],[15.3,0.0038],[15.5,0.0034],[15.8,0.0038],[16.1,0.0034],[16.4,0.0034],[16.7,0.0038],[17.0,0.0038],[17.3,0.0041],[17.6,0.0044],[17.9,0.0044],[18.1,0.0041],[18.4,0.0038],[18.6,0.0031],[18.8,0.0041],[19.1,0.005],[19.4,0.005],[19.7,0.0057],[20.0,0.0034],[20.3,0.0022],[20.7,0.0015],[21.0,0.0009],[21.4,0],[22,0]];
const F_BLUE = [[0,0],[0.7,0],[1.0,0.0041],[1.2,0.0066],[1.45,0.035],[1.65,0.0098],[1.85,0.0054],[2.1,0.0022],[2.3,0.0018],[2.6,0.0028],[2.9,0.0031],[3.1,0.0025],[3.3,0.0085],[3.5,0.0225],[3.7,0.0501],[3.9,0.0289],[4.1,0.012],[4.3,0.0124],[4.5,0.0155],[4.7,0.0219],[4.9,0.0251],[5.1,0.0162],[5.3,0.0098],[5.5,0.0038],[5.8,0.0034],[6.0,0.0038],[6.3,0.0047],[6.5,0.0069],[6.7,0.0149],[6.85,0.0162],[7.0,0.0149],[7.2,0.0149],[7.4,0.0047],[7.55,0.0047],[7.75,0.0098],[8.0,0.0162],[8.2,0.0213],[8.3,0.0264],[8.5,0.0155],[8.7,0.0124],[8.9,0.0162],[9.15,0.0175],[9.3,0.0124],[9.5,0.0168],[9.7,0.0124],[9.9,0.0117],[10.1,0.0149],[10.3,0.0155],[10.5,0.0136],[10.7,0.0111],[10.95,0.0079],[11.2,0.0069],[11.5,0.0073],[11.75,0.0079],[11.95,0.0178],[12.1,0.0104],[12.3,0.0066],[12.5,0.006],[12.7,0.0066],[12.9,0.0073],[13.0,0.0104],[13.2,0.0073],[13.5,0.0133],[13.65,0.0085],[13.8,0.0054],[14.0,0.006],[14.2,0.0073],[14.4,0.0069],[14.6,0.0101],[14.8,0.0085],[15.1,0.0069],[15.4,0.0066],[15.7,0.0066],[15.9,0.0073],[16.1,0.0066],[16.3,0.0076],[16.55,0.0073],[16.8,0.0085],[17.05,0.0085],[17.3,0.0073],[17.6,0.0069],[17.9,0.0066],[18.2,0.0073],[18.5,0.0066],[18.8,0.0054],[19.1,0.006],[19.4,0.0057],[19.7,0.0054],[20.0,0.005],[20.3,0.0044],[20.6,0.0041],[21.0,0.0028],[21.4,0.0009],[21.7,0],[22,0]];
const F_GREEN = [[0,0],[0.7,0],[1.0,0.0041],[1.2,0.006],[1.45,0.0557],[1.65,0.013],[1.85,0.0054],[2.1,0.0022],[2.3,0.0009],[2.6,0.0025],[2.9,0.0041],[3.1,0.0063],[3.3,0.0073],[3.5,0.0225],[3.7,0.0461],[3.9,0.0257],[4.05,0.0155],[4.3,0.0187],[4.5,0.0225],[4.75,0.0283],[4.95,0.0213],[5.1,0.0136],[5.35,0.0104],[5.5,0.0092],[5.75,0.0079],[5.9,0.006],[6.1,0.0054],[6.3,0.0098],[6.5,0.0136],[6.7,0.0194],[6.9,0.0308],[7.1,0.0225],[7.3,0.0085],[7.5,0.0031],[7.7,0.0073],[7.95,0.013],[8.15,0.0168],[8.4,0.013],[8.6,0.0085],[8.8,0.0089],[9.0,0.0111],[9.2,0.0098],[9.4,0.0089],[9.6,0.0098],[9.8,0.0085],[10.05,0.0085],[10.3,0.013],[10.55,0.0162],[10.7,0.0117],[10.95,0.0076],[11.2,0.0066],[11.45,0.0124],[11.7,0.0063],[11.9,0.006],[12.2,0.0066],[12.45,0.0085],[12.7,0.0063],[12.95,0.0066],[13.2,0.0063],[13.45,0.006],[13.7,0.0066],[13.95,0.006],[14.2,0.0063],[14.5,0.0066],[14.7,0.0101],[14.9,0.0073],[15.2,0.0063],[15.5,0.006],[15.8,0.006],[16.1,0.0057],[16.4,0.006],[16.7,0.0066],[17.0,0.0063],[17.3,0.0066],[17.55,0.0066],[17.85,0.0066],[18.1,0.0063],[18.4,0.0063],[18.7,0.0063],[19.0,0.0057],[19.3,0.006],[19.6,0.0057],[19.9,0.0047],[20.2,0.0044],[20.5,0.0038],[20.9,0.0028],[21.3,0.0012],[21.7,0],[22,0]];
const F_PURPLE = [[0,0],[0.7,0],[1.0,0.0028],[1.15,0.0047],[1.45,0.0702],[1.7,0.0194],[1.9,0.0054],[2.05,0.0015],[2.3,0.0006],[2.6,0.0018],[2.9,0.0031],[3.1,0.0022],[3.35,0.0181],[3.7,0.0464],[3.9,0.0289],[4.05,0.0162],[4.3,0.0213],[4.5,0.0257],[4.7,0.0406],[4.95,0.0257],[5.15,0.0136],[5.35,0.0085],[5.55,0.0044],[5.8,0.006],[6.0,0.0079],[6.2,0.0098],[6.4,0.0136],[6.55,0.0165],[6.7,0.0133],[6.85,0.0225],[6.95,0.0401],[7.15,0.0289],[7.3,0.0162],[7.5,0.0034],[7.7,0.006],[7.95,0.0104],[8.2,0.0155],[8.4,0.013],[8.55,0.0111],[8.8,0.0092],[9.05,0.0085],[9.3,0.0092],[9.55,0.0085],[9.8,0.0073],[10.05,0.0069],[10.3,0.0082],[10.5,0.0098],[10.75,0.0203],[10.95,0.0079],[11.15,0.0069],[11.4,0.0079],[11.65,0.0063],[11.9,0.0066],[12.15,0.0073],[12.4,0.0076],[12.6,0.0066],[12.85,0.0073],[13.1,0.0069],[13.3,0.0076],[13.5,0.0063],[13.8,0.006],[14.0,0.0066],[14.3,0.0066],[14.55,0.0063],[14.8,0.0076],[15.1,0.0069],[15.4,0.0066],[15.7,0.0066],[16.0,0.0069],[16.3,0.0079],[16.5,0.0076],[16.8,0.0069],[17.05,0.0066],[17.3,0.0073],[17.5,0.0076],[17.8,0.0069],[18.1,0.0079],[18.35,0.0069],[18.6,0.0069],[18.9,0.0066],[19.15,0.006],[19.4,0.0066],[19.65,0.0076],[19.9,0.0054],[20.2,0.0047],[20.5,0.0041],[20.9,0.0028],[21.3,0.0015],[21.7,0],[22,0]];

// ---------- layout (page pixels) ----------
const PAD_L = 80, PAD_T = 22, PAD_R = 45, PAD_B = 50;
const TOP_ROW = { t: 109, b: 828 };
const BOT_ROW = { t: 1040, b: 1758 };
const XTITLE_OFFSET = 67;
const CAPTION_OFFSET = 120;

type Pair = number[];
interface PanelDef {
  rect: { l: number; r: number; t: number; b: number };
  xMax: number;
  xTicks: number[];
  xLabels: string[];
  series: Pair[][];
}

const PANELS: PanelDef[] = [
  { rect: { l: 79, r: 496, ...TOP_ROW }, xMax: 0.015, xTicks: XT_A, xLabels: XL_A, series: [A_RED, A_BLUE, A_GREEN, A_PURPLE] },
  { rect: { l: 594, r: 1013, ...TOP_ROW }, xMax: 0.03, xTicks: XT_B, xLabels: XL_B, series: [B_RED, B_BLUE, B_GREEN, B_PURPLE] },
  { rect: { l: 1105, r: 1524, ...TOP_ROW }, xMax: 0.15, xTicks: XT_C, xLabels: XL_C, series: [C_RED, C_BLUE, C_GREEN, C_PURPLE] },
  { rect: { l: 79, r: 514, ...BOT_ROW }, xMax: 8, xTicks: XT_D, xLabels: XL_D, series: [D_RED, D_BLUE, D_GREEN, D_PURPLE] },
  { rect: { l: 594, r: 1035, ...BOT_ROW }, xMax: 0.0115, xTicks: XT_E, xLabels: XL_E, series: [E_RED, E_BLUE, E_GREEN, E_PURPLE] },
  { rect: { l: 1117, r: 1532, ...BOT_ROW }, xMax: 0.08, xTicks: XT_F, xLabels: XL_F, series: [F_RED, F_BLUE, F_GREEN, F_PURPLE] },
];

const innerTicks = {
  id: "innerTicks",
  beforeDatasetsDraw(chart: any) {
    const { ctx, chartArea, scales } = chart;
    const x = scales.x, y = scales.y;
    ctx.save();
    ctx.strokeStyle = AXIS_COLOR;
    ctx.lineWidth = 2;
    ctx.beginPath();
    x.ticks.forEach((t: any) => {
      const px = x.getPixelForValue(t.value);
      ctx.moveTo(px, chartArea.bottom);
      ctx.lineTo(px, chartArea.bottom - 8);
    });
    y.ticks.forEach((t: any) => {
      const py = y.getPixelForValue(t.value);
      ctx.moveTo(chartArea.left, py);
      ctx.lineTo(chartArea.left + 8, py);
    });
    ctx.stroke();
    ctx.restore();
  },
};

function Panel({ def }: { def: PanelDef }) {
  const ref = useRef<HTMLCanvasElement>(null);
  const { l, r, t, b } = def.rect;
  const w = r - l + PAD_L + PAD_R;
  const h = b - t + PAD_T + PAD_B;

  useEffect(() => {
    if (!ref.current) return;
    const chart = new Chart(ref.current, {
      type: "scatter",
      data: {
        datasets: def.series.map((s, i) => ({
          label: SERIES_LABELS[i],
          data: s.map(([hh, v]) => ({ x: v, y: hh })),
          showLine: true,
          borderColor: SERIES_COLORS[i],
          backgroundColor: SERIES_COLORS[i],
          borderWidth: 2.6,
          borderJoinStyle: "round",
          pointRadius: 0,
          tension: 0,
          clip: false as any,
          order: 4 - i,
        })),
      },
      options: {
        animation: false,
        responsive: false,
        events: [],
        layout: { padding: { left: 0, top: PAD_T, right: PAD_R, bottom: 0 } },
        plugins: { legend: { display: false }, tooltip: { enabled: false } },
        scales: {
          x: {
            type: "linear",
            min: 0,
            max: def.xMax,
            afterBuildTicks: (s: any) => { s.ticks = def.xTicks.map((v) => ({ value: v })); },
            afterFit: (s: any) => { s.height = PAD_B; s.paddingLeft = 0; s.paddingRight = 0; },
            grid: { color: GRID_COLOR, lineWidth: 2, drawTicks: false },
            border: { display: true, color: AXIS_COLOR, width: 2 },
            ticks: {
              padding: 12,
              color: AXIS_COLOR,
              font: { family: FONT, size: 23 },
              maxRotation: 0,
              minRotation: 0,
              autoSkip: false,
              callback: (_v: any, i: number) => def.xLabels[i],
            },
          },
          y: {
            type: "linear",
            min: 0,
            max: 22,
            afterBuildTicks: (s: any) => { s.ticks = H_TICKS.map((v) => ({ value: v })); },
            afterFit: (s: any) => { s.width = PAD_L; s.paddingTop = 0; s.paddingBottom = 0; },
            grid: { color: GRID_COLOR, lineWidth: 2, drawTicks: false },
            border: { display: true, color: AXIS_COLOR, width: 2 },
            ticks: {
              padding: 10,
              color: AXIS_COLOR,
              font: { family: FONT, size: 23 },
              autoSkip: false,
              callback: (_v: any, i: number) => H_TICK_LABELS[i],
            },
          },
        },
      },
      plugins: [innerTicks],
    } as any);
    return () => chart.destroy();
  }, [def]);

  return (
    <canvas
      ref={ref}
      width={w}
      height={h}
      style={{ position: "absolute", left: l - PAD_L, top: t - PAD_T, width: w, height: h }}
    />
  );
}

const textBase: React.CSSProperties = {
  position: "absolute",
  fontFamily: FONT,
  color: AXIS_COLOR,
  whiteSpace: "nowrap",
};
const supStyle: React.CSSProperties = { fontSize: "0.68em", position: "relative", top: "-0.55em" };

function XTitle({ cx, cy, children }: { cx: number; cy: number; children: React.ReactNode }) {
  return (
    <div style={{ ...textBase, left: cx - 300, width: 600, top: cy - 14, fontSize: 27, lineHeight: "27px", textAlign: "center" }}>
      {children}
    </div>
  );
}

function YTitle({ cx, cy }: { cx: number; cy: number }) {
  return (
    <div style={{ ...textBase, left: cx - 100, width: 200, top: cy - 14, fontSize: 27, lineHeight: "27px", textAlign: "center", transform: "rotate(-90deg)" }}>
      H [m]
    </div>
  );
}

function Caption({ cx, cy, text }: { cx: number; cy: number; text: string }) {
  return (
    <div style={{ position: "absolute", left: cx - 60, width: 120, top: cy - 20, fontFamily: SERIF, fontWeight: "bold", fontSize: 36, lineHeight: "36px", textAlign: "center", color: "#000" }}>
      {text}
    </div>
  );
}

const LEGEND_BOX = { left: 429, top: 15, width: 640, height: 40 };
const LEGEND_LINE_X = [4, 96, 218, 400];
const LEGEND_TEXT_X = [73, 163, 285, 465];

function Legend() {
  return (
    <div style={{ position: "absolute", ...LEGEND_BOX, border: "4px solid #1a1a1a", boxSizing: "border-box", background: "#fff" }}>
      {SERIES_LABELS.map((lab, i) => (
        <React.Fragment key={lab}>
          <div style={{ position: "absolute", left: LEGEND_LINE_X[i], top: 14, width: 59, height: 4, background: SERIES_COLORS[i] }} />
          <div style={{ ...textBase, color: "#000", left: LEGEND_TEXT_X[i], top: 0, fontSize: 28, lineHeight: "32px", wordSpacing: 6 }}>{lab}</div>
        </React.Fragment>
      ))}
    </div>
  );
}

export default function App() {
  useEffect(() => {
    document.body.style.margin = "0";
    document.body.style.background = "#fff";
  }, []);
  const mid = (p: PanelDef) => (p.rect.l + p.rect.r) / 2;
  const topTitleY = TOP_ROW.b + XTITLE_OFFSET;
  const botTitleY = BOT_ROW.b + XTITLE_OFFSET;
  const topCapY = TOP_ROW.b + CAPTION_OFFSET;
  const botCapY = BOT_ROW.b + CAPTION_OFFSET;
  return (
    <div style={{ position: "relative", width: 1569, height: 1912, background: "#fff", overflow: "hidden" }}>
      <Legend />
      {PANELS.map((p, i) => (
        <Panel key={i} def={p} />
      ))}
      <YTitle cx={24} cy={(TOP_ROW.t + TOP_ROW.b) / 2} />
      <YTitle cx={24} cy={(BOT_ROW.t + BOT_ROW.b) / 2} />

      <XTitle cx={mid(PANELS[0])} cy={topTitleY}>branch volume mean [m<span style={supStyle}>3</span>]</XTitle>
      <XTitle cx={mid(PANELS[1])} cy={topTitleY}>branch volume mean [m<span style={supStyle}>3</span>]</XTitle>
      <XTitle cx={mid(PANELS[2])} cy={topTitleY}>branch volume mean [m<span style={supStyle}>3</span>]</XTitle>
      <XTitle cx={mid(PANELS[3])} cy={botTitleY}>branch volume std. [m<span style={supStyle}>3</span>]</XTitle>
      <div style={{ ...textBase, left: 451, top: botTitleY - 17, fontSize: 25, lineHeight: "25px" }}>
        ×10<span style={supStyle}>-3</span>
      </div>
      <XTitle cx={mid(PANELS[4])} cy={botTitleY}>branch volume std. [m<span style={supStyle}>3</span>]</XTitle>
      <XTitle cx={mid(PANELS[5])} cy={botTitleY}>branch volume std. [m<span style={supStyle}>3</span>]</XTitle>

      <Caption cx={267} cy={topCapY} text="(a)" />
      <Caption cx={797} cy={topCapY} text="(b)" />
      <Caption cx={1309} cy={topCapY} text="(c)" />
      <Caption cx={266} cy={botCapY} text="(d)" />
      <Caption cx={803} cy={botCapY} text="(e)" />
      <Caption cx={1319} cy={botCapY} text="(f)" />
    </div>
  );
}
